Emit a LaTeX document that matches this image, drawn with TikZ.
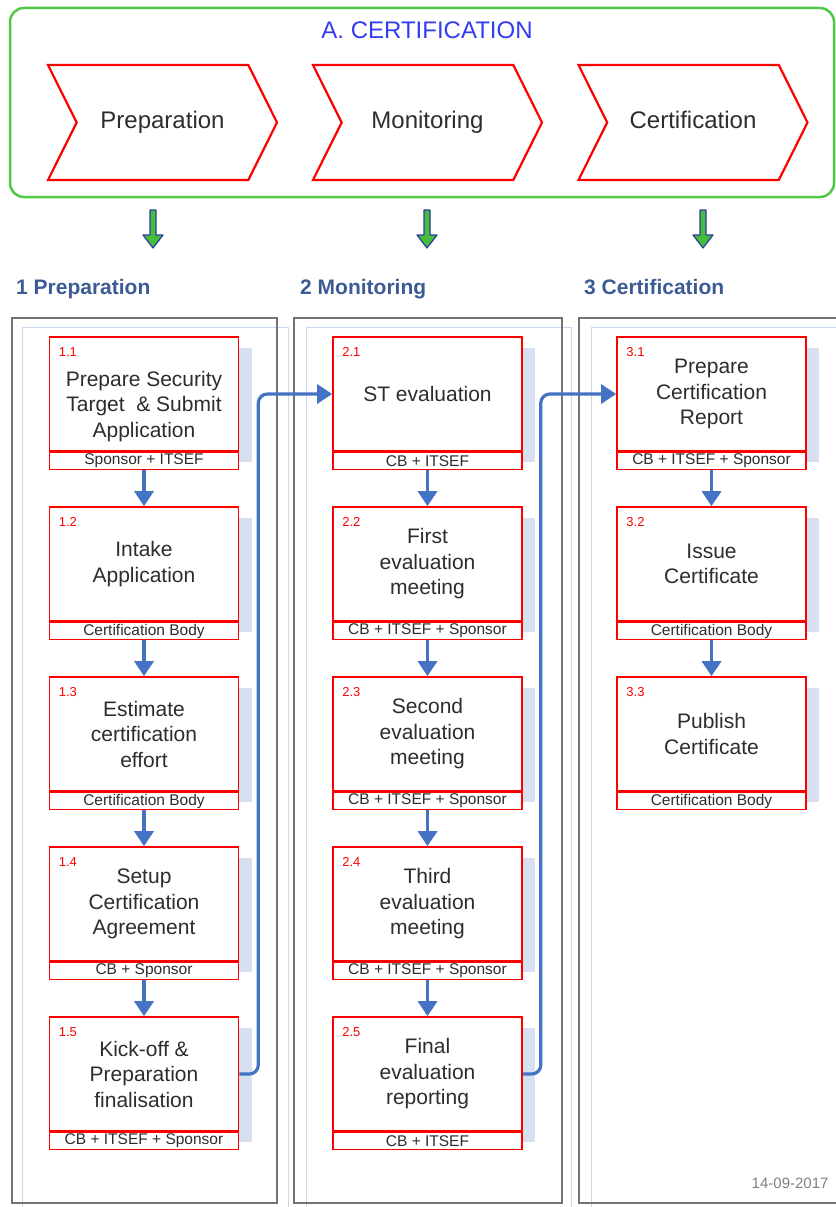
\documentclass[tikz,border=0pt]{standalone}
\usepackage{fontspec}
\setmainfont{Liberation Sans}
\usetikzlibrary{arrows.meta,shapes.symbols,shadows}

\definecolor{framegreen}{RGB}{80,200,70}
\definecolor{titleblue}{RGB}{50,60,240}
\definecolor{headblue}{RGB}{60,90,148}
\definecolor{flowblue}{RGB}{68,114,196}
\definecolor{shadeblue}{RGB}{214,224,240}
\definecolor{lanelight}{RGB}{200,216,238}
\definecolor{lanegray}{RGB}{115,115,115}
\definecolor{txtgray}{RGB}{45,45,45}
\definecolor{arrowgreen}{RGB}{70,190,60}
\definecolor{arrowedge}{RGB}{40,60,160}

\begin{document}
\begin{tikzpicture}[x=1pt,y=-1pt,
  phase/.style={signal, signal to=east, signal from=west, signal pointer angle=127,
    draw=red, line width=2.2pt, minimum width=229pt, minimum height=115pt,
    text height=17pt, text depth=5pt,
    text=txtgray, font=\fontsize{24}{28}\selectfont},
  task/.style={draw=red, line width=1.6pt, fill=white, minimum width=189pt,
    minimum height=114pt, inner sep=0pt, align=center, text=txtgray,
    font=\fontsize{21}{25.5}\selectfont,
    general shadow={fill=shadeblue, shadow xshift=13pt, shadow yshift=-11pt}},
  who/.style={draw=red, line width=1.6pt, fill=white, minimum width=189pt,
    minimum height=17pt, inner sep=0pt, anchor=north, text=txtgray,
    font=\fontsize{15.5}{16}\selectfont},
  num/.style={anchor=north west, inner sep=0pt, xshift=10pt, yshift=-11pt,
    text=red, font=\fontsize{13}{13}\selectfont},
  lanehead/.style={anchor=base west, inner sep=0pt, text=headblue,
    font=\bfseries\fontsize{21}{24}\selectfont},
  flow/.style={draw=flowblue, line width=3.2pt, -{Triangle[length=15pt,width=19pt]}},
  link/.style={flow, rounded corners=9pt},
  gdown/.style={draw=arrowedge, fill=arrowgreen, line width=1.2pt, line join=round}]
\useasboundingbox (0,0) rectangle (835,1207);

% phases
\draw[framegreen, line width=2.5pt, rounded corners=14pt] (10,8) rectangle (834,197);
\node[text=titleblue, font=\fontsize{24}{28}\selectfont] (title) at (427,30) {A. CERTIFICATION};
\node[phase] (ph1) at (162.5,122.5) {Preparation};
\node[phase] (ph2) at (427.5,122.5) {Monitoring};
\node[phase] (ph3) at (693,122.5) {Certification};

\draw[gdown] (150,210) -- (156,210) -- (156,235) -- (163,235) -- (153,248) -- (143,235) -- (150,235) -- cycle;
\draw[gdown] (424,210) -- (430,210) -- (430,235) -- (437,235) -- (427,248) -- (417,235) -- (424,235) -- cycle;
\draw[gdown] (700,210) -- (706,210) -- (706,235) -- (713,235) -- (703,248) -- (693,235) -- (700,235) -- cycle;

% lanes
\node[lanehead] (h1) at (16,294) {1 Preparation};
\node[lanehead] (h2) at (300,294) {2 Monitoring};
\node[lanehead] (h3) at (584,294) {3 Certification};
\draw[lanelight, line width=1pt] (22,327) rectangle (288,1215);
\draw[lanelight, line width=1pt] (306,327) rectangle (571,1215);
\draw[lanelight, line width=1pt] (591,327) rectangle (850,1215);
\draw[lanegray, line width=1.3pt] (12,318) rectangle (277,1203);
\draw[lanegray, line width=1.3pt] (294,318) rectangle (562,1203);
\draw[lanegray, line width=1.3pt] (579,318) rectangle (850,1203);

% 1 preparation
\node[task, label={[num]north west:1.1}] (t11) at (144,394) {\rule{0pt}{40pt}Prepare Security\\Target \ \& Submit\\Application};
\node[who] (w11) at (t11.south) {Sponsor + ITSEF};
\node[task, label={[num]north west:1.2}] (t12) at (144,564) {Intake\\Application};
\node[who] (w12) at (t12.south) {Certification Body};
\node[task, label={[num]north west:1.3}] (t13) at (144,734) {Estimate\\certification\\effort};
\node[who] (w13) at (t13.south) {Certification Body};
\node[task, label={[num]north west:1.4}] (t14) at (144,904) {Setup\\Certification\\Agreement};
\node[who] (w14) at (t14.south) {CB + Sponsor};
\node[task, label={[num]north west:1.5}] (t15) at (144,1074) {Kick-off \&\\Preparation\\finalisation};
\node[who] (w15) at (t15.south) {CB + ITSEF + Sponsor};

% 2 monitoring
\node[task, label={[num]north west:2.1}] (t21) at (427.5,394) {ST evaluation};
\node[who] (w21) at (t21.south) {CB + ITSEF};
\node[task, label={[num]north west:2.2}] (t22) at (427.5,564) {First\\evaluation\\meeting};
\node[who] (w22) at (t22.south) {CB + ITSEF + Sponsor};
\node[task, label={[num]north west:2.3}] (t23) at (427.5,734) {Second\\evaluation\\meeting};
\node[who] (w23) at (t23.south) {CB + ITSEF + Sponsor};
\node[task, label={[num]north west:2.4}] (t24) at (427.5,904) {Third\\evaluation\\meeting};
\node[who] (w24) at (t24.south) {CB + ITSEF + Sponsor};
\node[task, label={[num]north west:2.5}] (t25) at (427.5,1074) {Final\\evaluation\\reporting};
\node[who] (w25) at (t25.south) {CB + ITSEF};

% 3 certification
\node[task, label={[num]north west:3.1}] (t31) at (711.5,394) {Prepare\\Certification\\Report};
\node[who] (w31) at (t31.south) {CB + ITSEF + Sponsor};
\node[task, label={[num]north west:3.2}] (t32) at (711.5,564) {Issue\\Certificate};
\node[who] (w32) at (t32.south) {Certification Body};
\node[task, label={[num]north west:3.3}] (t33) at (711.5,734) {Publish\\Certificate};
\node[who] (w33) at (t33.south) {Certification Body};

% flow
\draw[flow] (w11.south) -- (t12.north);
\draw[flow] (w12.south) -- (t13.north);
\draw[flow] (w13.south) -- (t14.north);
\draw[flow] (w14.south) -- (t15.north);
\draw[flow] (w21.south) -- (t22.north);
\draw[flow] (w22.south) -- (t23.north);
\draw[flow] (w23.south) -- (t24.north);
\draw[flow] (w24.south) -- (t25.north);
\draw[flow] (w31.south) -- (t32.north);
\draw[flow] (w32.south) -- (t33.north);
\draw[link] (t15.east) -- ++(19,0) |- (t21.west);
\draw[link] (t25.east) -- ++(18,0) |- (t31.west);

\node[anchor=east, text=gray, font=\fontsize{15}{15}\selectfont] (date) at (832,1183) {14-09-2017};
\end{tikzpicture}
\end{document}
